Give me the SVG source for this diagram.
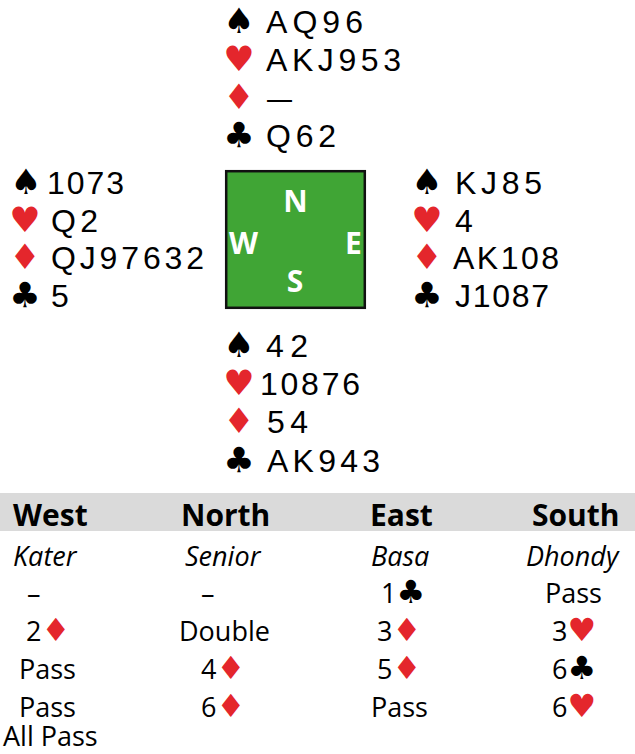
<svg xmlns="http://www.w3.org/2000/svg" width="635" height="754" viewBox="0 0 635 754">
<style>
.hand{font-family:"Liberation Sans",Arial,sans-serif;font-size:32px;fill:#000}
.suit{font-family:"DejaVu Sans",sans-serif;font-size:35px;text-anchor:middle}
.red{fill:#e4262c}
.blk{fill:#000}
.compass{font-family:"Open Sans",sans-serif;font-weight:700;font-size:30px;fill:#fff;text-anchor:middle}
.bid{font-family:"Open Sans","Noto Sans",sans-serif;font-size:27px;fill:#000}
.hdr{font-weight:700;font-size:30px}
.name{font-style:italic}
.bs{font-family:"DejaVu Sans",sans-serif;font-size:32px}
</style>
<rect width="635" height="754" fill="#fff"/>
<g id="connectors"/>
<g id="north">
<text class="suit blk" x="239" y="33">♠</text>
<text class="suit red" x="239" y="71">♥</text>
<text class="suit red" x="239" y="109">♦</text>
<text class="suit blk" x="239" y="147">♣</text>
<text class="hand" x="266" y="33" textLength="97">AQ96</text>
<text class="hand" x="266" y="71" textLength="135">AKJ953</text>
<text class="hand" x="267" y="109" textLength="25" lengthAdjust="spacingAndGlyphs">—</text>
<text class="hand" x="266" y="147" textLength="70">Q62</text>
</g>
<g id="west">
<text class="suit blk" x="26" y="194">♠</text>
<text class="suit red" x="25" y="231.5">♥</text>
<text class="suit red" x="25" y="269">♦</text>
<text class="suit blk" x="25" y="306.5">♣</text>
<text class="hand" x="47" y="194" textLength="77">1073</text>
<text class="hand" x="51" y="231.5" textLength="47">Q2</text>
<text class="hand" x="51" y="269" textLength="153">QJ97632</text>
<text class="hand" x="51" y="306.5">5</text>
</g>
<g id="table">
<rect x="226.2" y="171.2" width="138.6" height="136.6" fill="#40a535" stroke="#111" stroke-width="2.5"/>
<text class="compass" x="295.5" y="212">N</text>
<text class="compass" x="243.5" y="254">W</text>
<text class="compass" x="353.5" y="254">E</text>
<text class="compass" x="295" y="292">S</text>
</g>
<g id="east">
<text class="suit blk" x="427" y="194">♠</text>
<text class="suit red" x="427" y="231.5">♥</text>
<text class="suit red" x="427" y="269">♦</text>
<text class="suit blk" x="427" y="306.5">♣</text>
<text class="hand" x="455" y="194" textLength="87">KJ85</text>
<text class="hand" x="455" y="231.5">4</text>
<text class="hand" x="453" y="269" textLength="106">AK108</text>
<text class="hand" x="455" y="306.5" textLength="94">J1087</text>
</g>
<g id="south">
<text class="suit blk" x="239" y="357">♠</text>
<text class="suit red" x="239" y="395">♥</text>
<text class="suit red" x="239" y="433">♦</text>
<text class="suit blk" x="239" y="471.5">♣</text>
<text class="hand" x="266" y="357" textLength="42">42</text>
<text class="hand" x="260" y="395" textLength="100">10876</text>
<text class="hand" x="267" y="433" textLength="41">54</text>
<text class="hand" x="267" y="471.5" textLength="113">AK943</text>
</g>
<g id="auction">
<rect x="0" y="493" width="635" height="38" fill="#dadada"/>
<text class="bid hdr" x="13" y="526">West</text>
<text class="bid hdr" x="181" y="526">North</text>
<text class="bid hdr" x="370" y="526">East</text>
<text class="bid hdr" x="532" y="526">South</text>
<text class="bid name" x="13" y="566">Kater</text>
<text class="bid name" x="185" y="566">Senior</text>
<text class="bid name" x="371" y="566">Basa</text>
<text class="bid name" x="526" y="566">Dhondy</text>
<text class="bid" x="27" y="603">–</text>
<text class="bid" x="201" y="603">–</text>
<text class="bid" x="381" y="603">1<tspan class="bs blk">♣</tspan></text>
<text class="bid" x="545" y="603">Pass</text>
<text class="bid" x="26" y="641">2<tspan class="bs red">♦</tspan></text>
<text class="bid" x="179" y="641">Double</text>
<text class="bid" x="377" y="641">3<tspan class="bs red">♦</tspan></text>
<text class="bid" x="552" y="641">3<tspan class="bs red">♥</tspan></text>
<text class="bid" x="19" y="679">Pass</text>
<text class="bid" x="201" y="679">4<tspan class="bs red">♦</tspan></text>
<text class="bid" x="377" y="679">5<tspan class="bs red">♦</tspan></text>
<text class="bid" x="552" y="679">6<tspan class="bs blk">♣</tspan></text>
<text class="bid" x="19" y="717">Pass</text>
<text class="bid" x="201" y="717">6<tspan class="bs red">♦</tspan></text>
<text class="bid" x="371" y="717">Pass</text>
<text class="bid" x="552" y="717">6<tspan class="bs red">♥</tspan></text>
<text class="bid" x="3" y="746">All Pass</text>
</g>
</svg>
